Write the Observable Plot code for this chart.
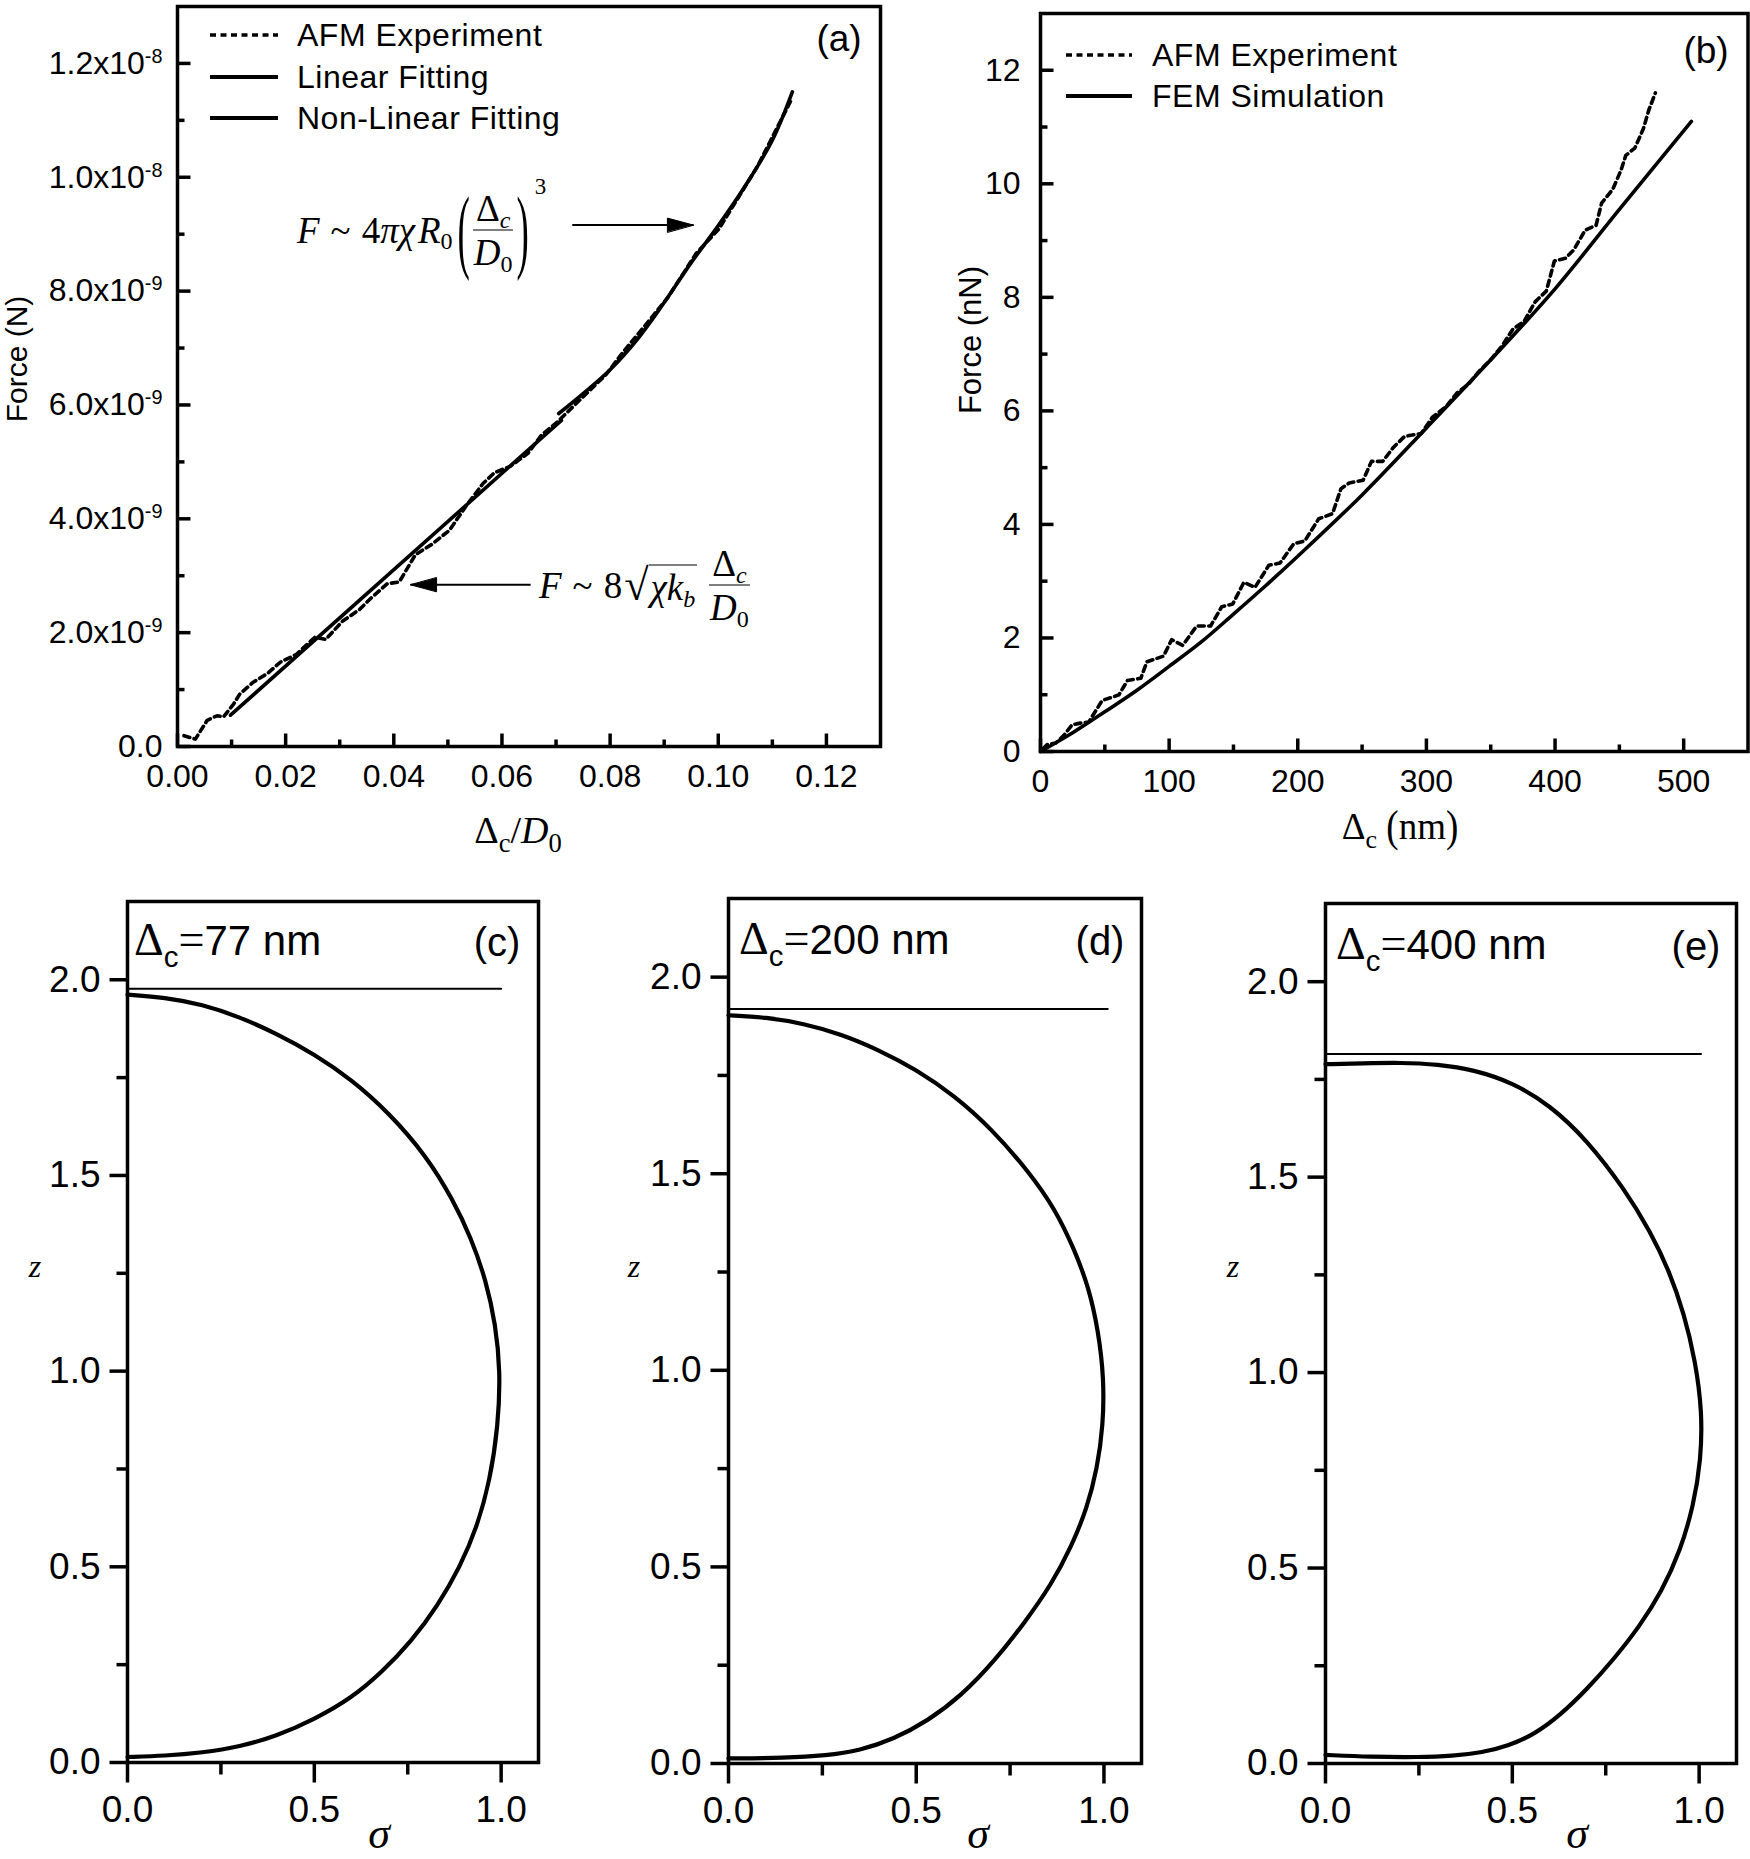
<!DOCTYPE html>
<html><head><meta charset="utf-8">
<script src="https://cdn.jsdelivr.net/npm/d3@7"></script>
<script src="https://cdn.jsdelivr.net/npm/@observablehq/plot@0.6"></script>
<style>
body{margin:0;background:#fff;}
#fig{position:relative;width:1750px;height:1859px;background:#fff;overflow:hidden;font-family:"Liberation Sans",Arial,sans-serif;color:#000;}
.panel{position:absolute;}
.t{position:absolute;white-space:nowrap;line-height:1;}
.serif{font-family:"Liberation Serif","Times New Roman",serif;}
.frac{display:inline-flex;flex-direction:column;align-items:center;vertical-align:middle;margin:0 3px;}
.frac .num{line-height:1;padding:0 3px 3px 3px;border-bottom:1.8px solid #000;}
.frac .den{line-height:1;padding-top:3px;}
.bigp{display:inline-block;transform:scaleY(2.5);line-height:1;font-style:normal;}
sub,sup{line-height:0;}
</style></head><body><div id="fig"></div>
<script>
// ---------------- DATA ----------------
// Panel (a): force vs Δc/D0
const afmA_x = [0.0012,0.0033,0.0055,0.0073,0.0085,0.0104,0.0115,0.014,0.0166,0.019,0.022,0.0254,0.0274,0.0305,0.0337,0.0357,0.0388,0.041,0.044,0.047,0.0503,0.0534,0.0565,0.0586,0.0615,0.0648,0.0674,0.07,0.0741,0.0793,0.0824,0.0866,0.0907,0.0959,0.1001,0.1042,0.1073,0.1104,0.1135];
const afmA_F = [0.19e-9,0.13e-9,0.46e-9,0.54e-9,0.52e-9,0.75e-9,0.92e-9,1.13e-9,1.28e-9,1.48e-9,1.62e-9,1.92e-9,1.88e-9,2.2e-9,2.41e-9,2.6e-9,2.86e-9,2.89e-9,3.37e-9,3.55e-9,3.8e-9,4.23e-9,4.62e-9,4.81e-9,4.92e-9,5.15e-9,5.48e-9,5.68e-9,6.06e-9,6.54e-9,6.93e-9,7.41e-9,7.89e-9,8.66e-9,9.09e-9,9.72e-9,10.2e-9,10.78e-9,11.36e-9];
const linA_x = [0.0098, 0.071];
const linA_F = [0.55e-9, 5.73e-9];
const nonlinA_x = [0.0705,0.075,0.08,0.085,0.09,0.095,0.1,0.105,0.11,0.1137];
const nonlinA_F = [5.85e-9,6.2e-9,6.62e-9,7.15e-9,7.8e-9,8.5e-9,9.15e-9,9.85e-9,10.65e-9,11.5e-9];
const arrowA_from = [0.073, 0.0653];
const arrowA_to = [0.0954, 0.0431];
const arrowA_F = [9.16e-9, 2.84e-9];
const xTicksA = [0,0.02,0.04,0.06,0.08,0.10,0.12];
const xMinorA = [0.01,0.03,0.05,0.07,0.09,0.11];
const yTicksA = [0,2e-9,4e-9,6e-9,8e-9,1e-8,1.2e-8];
const yTickLabelsA = ["0.0","2.0x10^-9","4.0x10^-9","6.0x10^-9","8.0x10^-9","1.0x10^-8","1.2x10^-8"];
const yMinorA = [1e-9,3e-9,5e-9,7e-9,9e-9,1.1e-8];

// Panel (b): force (nN) vs Δc (nm)
const afmB_x = [2,5,12,18,24.5,31,37.5,48,55,61,67.6,78,82.7,95.6,102,110.6,121.4,132.2,140.9,149.5,158.1,166.7,177.5,186.2,196.9,205.5,216.3,227,233.6,240,250.8,257.3,266,274.5,283,296,304.7,315.5,324,332.7,341.4,350,358.6,367.3,376,384.5,393.2,399.5,408.2,414.7,423.3,431.9,436.2,444.8,451.3,455,462,468.5,472.9,478];
const afmB_F = [0.05,0.12,0.15,0.28,0.47,0.5,0.52,0.9,0.95,1.0,1.25,1.29,1.58,1.68,1.97,1.87,2.21,2.21,2.55,2.6,2.98,2.89,3.28,3.32,3.66,3.71,4.1,4.19,4.63,4.73,4.78,5.11,5.11,5.36,5.55,5.6,5.89,6.08,6.32,6.47,6.71,6.9,7.14,7.44,7.58,7.92,8.11,8.64,8.69,8.84,9.18,9.27,9.66,9.9,10.24,10.5,10.63,10.96,11.3,11.6];
const femB_x = [0,25,50,75,100,125,150,175,200,250,300,350,400,450,506];
const femB_F = [0,0.33,0.7,1.08,1.5,1.93,2.42,2.92,3.44,4.52,5.7,6.9,8.15,9.55,11.1];
const xTicksB = [0,100,200,300,400,500];
const xMinorB = [50,150,250,350,450];
const yTicksB = [0,2,4,6,8,10,12];
const yMinorB = [1,3,5,7,9,11];

// Panels (c)(d)(e): membrane profile z vs σ (traced from top of the membrane down to the bottom)
const sigmaC = [0,0.1,0.2,0.3,0.4,0.5,0.6,0.7,0.8,0.87,0.92,0.96,0.985,0.998,0.992,0.97,0.935,0.89,0.83,0.76,0.68,0.6,0.5,0.4,0.3,0.2,0.1,0];
const zC     = [1.962,1.955,1.937,1.905,1.862,1.81,1.745,1.66,1.55,1.44,1.34,1.23,1.12,1.0,0.86,0.72,0.6,0.5,0.4,0.31,0.23,0.165,0.11,0.068,0.04,0.025,0.017,0.014];
const sigmaD = [0,0.1,0.2,0.3,0.4,0.5,0.6,0.7,0.8,0.87,0.92,0.96,0.985,1.0,0.998,0.982,0.955,0.915,0.86,0.79,0.71,0.62,0.53,0.44,0.35,0.26,0.15,0];
const zD     = [1.903,1.898,1.882,1.855,1.815,1.765,1.7,1.615,1.505,1.41,1.31,1.21,1.1,0.98,0.86,0.75,0.65,0.555,0.455,0.36,0.262,0.172,0.108,0.062,0.033,0.02,0.014,0.013];
const sigmaE = [0,0.1,0.2,0.3,0.4,0.5,0.6,0.7,0.8,0.87,0.92,0.96,0.99,1.008,1.005,0.985,0.95,0.9,0.84,0.77,0.7,0.63,0.56,0.49,0.42,0.34,0.25,0.12,0];
const zE     = [1.789,1.791,1.793,1.789,1.774,1.742,1.685,1.595,1.47,1.36,1.26,1.15,1.03,0.9,0.777,0.66,0.545,0.44,0.35,0.265,0.19,0.125,0.075,0.045,0.028,0.019,0.016,0.017,0.022];
const plateZ = [1.977, 1.919, 1.815];
const plateEnd = [1.0, 1.01, 1.005];
const deltaLabels = ["77", "200", "400"];
const panelLetters = ["(c)", "(d)", "(e)"];
const xTicksS = [0, 0.5, 1.0];
const xMinorS = [0.25, 0.75];
const yTicksS = [0, 0.5, 1.0, 1.5, 2.0];
const yMinorS = [0.25, 0.75, 1.25, 1.75];

// ---------------- HELPERS ----------------
const fig = document.getElementById("fig");
const zip = (xs, ys) => xs.map((x, i) => ({x, y: ys[i]}));
const tickShape = {draw(ctx, l) { ctx.moveTo(0, 0); ctx.lineTo(0, -l); }};
const headShape = {draw(ctx, l) { ctx.moveTo(0, -l); ctx.lineTo(-7, 0); ctx.lineTo(7, 0); ctx.closePath(); }};
const baseStyle = (fs) => ({fontFamily: "Liberation Sans, Arial, sans-serif", fontSize: fs + "px", background: "transparent", color: "black", overflow: "visible"});
const DOT = "6,4.5";
function ticks(values, axis, x0, len, rot) {
  return Plot.vector(values, axis === "x"
    ? {x: d => d, y: () => x0, length: len, rotate: rot, anchor: "start", shape: tickShape, stroke: "black", strokeWidth: 3.5, strokeLinecap: "butt"}
    : {x: () => x0, y: d => d, length: len, rotate: rot, anchor: "start", shape: tickShape, stroke: "black", strokeWidth: 3.5, strokeLinecap: "butt"});
}
function mount(svg, left, top) {
  const d = document.createElement("div");
  d.className = "panel"; d.style.left = left + "px"; d.style.top = top + "px";
  d.appendChild(svg); fig.appendChild(d);
}
function txt(html, x, y, style = "", anchor = "c") {
  const d = document.createElement("div");
  d.className = "t"; d.innerHTML = html;
  const tr = anchor === "c" ? "translate(-50%,-50%)" : anchor === "l" ? "translate(0,-50%)" : "translate(-100%,-50%)";
  d.style.cssText += `left:${x}px;top:${y}px;transform:${tr};` + style;
  fig.appendChild(d); return d;
}

// ---------------- PANEL (a) ----------------
const arrowsA = arrowA_from.map((f, i) => ({x1: f, x2: arrowA_to[i], y: arrowA_F[i], rot: arrowA_to[i] > f ? 90 : -90}));
const labelMapA = new Map(yTicksA.map((v, i) => [v, yTickLabelsA[i]]));
const plotA = Plot.plot({
  width: 900, height: 860, marginLeft: 177, marginRight: 20, marginTop: 6, marginBottom: 114,
  x: {domain: [0, 0.13]}, y: {domain: [0, 1.3e-8]},
  style: baseStyle(32),
  marks: [
    Plot.line(zip(afmA_x, afmA_F), {x: "x", y: "y", stroke: "black", strokeWidth: 3.6, strokeDasharray: DOT}),
    Plot.line(zip(linA_x, linA_F), {x: "x", y: "y", stroke: "black", strokeWidth: 3.6}),
    Plot.line(zip(nonlinA_x, nonlinA_F), {x: "x", y: "y", stroke: "black", strokeWidth: 3.6, curve: "catmull-rom"}),
    Plot.link(arrowsA, {x1: "x1", y1: "y", x2: "x2", y2: "y", stroke: "black", strokeWidth: 2}),
    Plot.vector(arrowsA, {x: "x2", y: "y", rotate: "rot", length: 26, anchor: "end", shape: headShape, fill: "black", stroke: "black", strokeWidth: 1}),
    ticks(xTicksA, "x", 0, 13, 0), ticks(xMinorA, "x", 0, 7, 0),
    ticks(yTicksA, "y", 0, 13, 90), ticks(yMinorA, "y", 0, 7, 90),
    Plot.axisX({ticks: xTicksA, tickFormat: d3.format(".2f"), tickSize: 0, tickPadding: 18, label: null}),
    Plot.axisY({ticks: yTicksA, tickFormat: d => labelMapA.get(d), tickSize: 0, tickPadding: 15, label: null}),
    Plot.frame({stroke: "black", strokeWidth: 3.5})
  ]
});
plotA.querySelectorAll('[aria-label="y-axis tick label"] text').forEach(t => {
  const s = t.textContent;
  if (s.includes("^")) {
    const [a, b] = s.split("^");
    t.textContent = "";
    const t1 = document.createElementNS("http://www.w3.org/2000/svg", "tspan"); t1.textContent = a;
    const t2 = document.createElementNS("http://www.w3.org/2000/svg", "tspan"); t2.textContent = b;
    t2.setAttribute("dy", "-0.55em"); t2.setAttribute("font-size", "0.62em");
    t.appendChild(t1); t.appendChild(t2);
  }
});
mount(plotA, 0, 0);

// ---------------- PANEL (b) ----------------
const plotB = Plot.plot({
  width: 850, height: 860, marginLeft: 140, marginRight: 2.5, marginTop: 13, marginBottom: 109,
  x: {domain: [0, 550]}, y: {domain: [0, 13]},
  style: baseStyle(32),
  marks: [
    Plot.line(zip(afmB_x, afmB_F), {x: "x", y: "y", stroke: "black", strokeWidth: 3.6, strokeDasharray: DOT}),
    Plot.line(zip(femB_x, femB_F), {x: "x", y: "y", stroke: "black", strokeWidth: 3.6, curve: "catmull-rom"}),
    ticks(xTicksB, "x", 0, 13, 0), ticks(xMinorB, "x", 0, 7, 0),
    ticks(yTicksB, "y", 0, 13, 90), ticks(yMinorB, "y", 0, 7, 90),
    Plot.axisX({ticks: xTicksB, tickFormat: d3.format("d"), tickSize: 0, tickPadding: 18, label: null}),
    Plot.axisY({ticks: yTicksB, tickFormat: d3.format("d"), tickSize: 0, tickPadding: 20, label: null}),
    Plot.frame({stroke: "black", strokeWidth: 3.5})
  ]
});
mount(plotB, 900, 0);

// ---------------- PANELS (c)(d)(e) ----------------
const profiles = [zip(sigmaC, zC), zip(sigmaD, zD), zip(sigmaE, zE)];
const geom = [
  {left: 0, width: 580, ml: 127, mr: 42, mt: 41, mb: 97},
  {left: 580, width: 590, ml: 148, mr: 29, mt: 38, mb: 96},
  {left: 1170, width: 580, ml: 155, mr: 14, mt: 43, mb: 96}
];
profiles.forEach((pts, k) => {
  const g = geom[k];
  const p = Plot.plot({
    width: g.width, height: 999, marginLeft: g.ml, marginRight: g.mr, marginTop: g.mt, marginBottom: g.mb,
    x: {domain: [0, 1.1]}, y: {domain: [0, 2.2]},
    style: baseStyle(37),
    marks: [
      Plot.line([{x: 0, y: plateZ[k]}, {x: plateEnd[k], y: plateZ[k]}], {x: "x", y: "y", stroke: "black", strokeWidth: 2}),
      Plot.line(pts, {x: "x", y: "y", stroke: "black", strokeWidth: 4.2, curve: "basis"}),
      ticks(xTicksS, "x", 0, 20, 180), ticks(xMinorS, "x", 0, 12, 180),
      ticks(yTicksS, "y", 0, 18, -90), ticks(yMinorS, "y", 0, 11, -90),
      Plot.axisX({ticks: xTicksS, tickFormat: d3.format(".1f"), tickSize: 0, tickPadding: 33, label: null}),
      Plot.axisY({ticks: yTicksS, tickFormat: d3.format(".1f"), tickSize: 0, tickPadding: 27, label: null}),
      Plot.frame({stroke: "black", strokeWidth: 3.5})
    ]
  });
  mount(p, g.left, 860);
});

// ---------------- TEXT OVERLAYS ----------------
const dotted = (w) => `<svg width="${w}" height="6" style="vertical-align:middle;display:block"><line x1="0" y1="3" x2="${w}" y2="3" stroke="black" stroke-width="3.6" stroke-dasharray="${DOT}"/></svg>`;
const solid = (w) => `<svg width="${w}" height="6" style="vertical-align:middle;display:block"><line x1="0" y1="3" x2="${w}" y2="3" stroke="black" stroke-width="3.8"/></svg>`;
const legA = [["AFM Experiment", dotted], ["Linear Fitting", solid], ["Non-Linear Fitting", solid]];
const legAy = [35, 77, 118];
legA.forEach(([name, sw], i) => {
  txt(sw(68), 210, legAy[i], "", "l");
  txt(name, 297, legAy[i], "font-size:32px;letter-spacing:0.5px;", "l");
});
const legB = [["AFM Experiment", dotted], ["FEM Simulation", solid]];
const legBy = [55, 96];
legB.forEach(([name, sw], i) => {
  txt(sw(66), 1066, legBy[i], "", "l");
  txt(name, 1152, legBy[i], "font-size:32px;letter-spacing:0.5px;", "l");
});
txt("(a)", 839, 38, "font-size:37px;");
txt("(b)", 1706, 50, "font-size:37px;");

// Axis titles
txt("Force (N)", 17, 359, "font-size:30px;transform:translate(-50%,-50%) rotate(-90deg);");
txt("Force (nN)", 970, 340, "font-size:31px;transform:translate(-50%,-50%) rotate(-90deg);");
txt('Δ<span style="font-size:0.7em;position:relative;top:0.35em">c</span>/<i>D</i><span style="font-size:0.7em;position:relative;top:0.35em">0</span>', 518, 830, "font-size:38px;", "c").classList.add("serif");
txt('Δ<span style="font-size:0.7em;position:relative;top:0.35em">c</span> <span style="display:inline-block;transform:scaleY(1.2)">(</span>nm<span style="display:inline-block;transform:scaleY(1.2)">)</span>', 1400, 826, "font-size:37px;", "c").classList.add("serif");

// Formula annotations
txt(`<span style="display:inline-flex;align-items:center;font-style:italic">
  <span>F</span><span style="font-style:normal;margin:0 11px">~</span><span style="font-style:normal">4</span><span>πχ</span><span style="margin-left:3px">R</span><span style="font-style:normal;font-size:0.65em;position:relative;top:0.45em">0</span>
  <span class="bigp" style="margin-left:5px">(</span>
  <span class="frac"><span class="num"><span style="font-style:normal">Δ</span><span style="font-size:0.65em;position:relative;top:0.3em">c</span></span><span class="den">D<span style="font-style:normal;font-size:0.65em;position:relative;top:0.3em">0</span></span></span>
  <span class="bigp">)</span><span style="font-style:normal;font-size:0.62em;align-self:flex-start;margin-top:-14px;margin-left:6px">3</span>
</span>`, 297, 230, "font-size:37px;height:95px;display:flex;align-items:center;", "l").classList.add("serif");

txt(`<span style="display:inline-flex;align-items:center;font-style:italic">
  <span>F</span><span style="font-style:normal;margin:0 11px">~</span><span style="font-style:normal">8</span><span style="font-style:normal;font-size:1.2em;margin-left:2px">√</span><span style="border-top:1.8px solid #000;padding:3px 2px 0 2px">χk<span style="font-size:0.65em;position:relative;top:0.3em">b</span></span>
  <span class="frac" style="margin-left:12px"><span class="num"><span style="font-style:normal">Δ</span><span style="font-size:0.65em;position:relative;top:0.3em">c</span></span><span class="den">D<span style="font-style:normal;font-size:0.65em;position:relative;top:0.3em">0</span></span></span>
</span>`, 539, 585, "font-size:37px;", "l").classList.add("serif");

// Bottom panel texts
const panelTextX = [134, 739, 1336];
const panelTextY = [940, 939, 944];
const letterX = [497, 1100, 1696];
const zLabX = [35, 634, 1233];
const sigLabX = [379, 978, 1577];
deltaLabels.forEach((v, k) => {
  txt(`<span class="serif" style="font-size:1.1em">Δ</span><span style="font-size:0.7em;position:relative;top:0.4em">c</span><span class="serif" style="font-size:1.1em">=</span>${v} nm`, panelTextX[k], panelTextY[k], "font-size:42px;", "l");
  txt(panelLetters[k], letterX[k], panelTextY[k] + 2, "font-size:40px;");
  txt("z", zLabX[k], 1266, "font-size:32px;font-style:italic;").classList.add("serif");
  txt("σ", sigLabX[k], 1834, "font-size:44px;font-style:italic;").classList.add("serif");
});
</script></body></html>
